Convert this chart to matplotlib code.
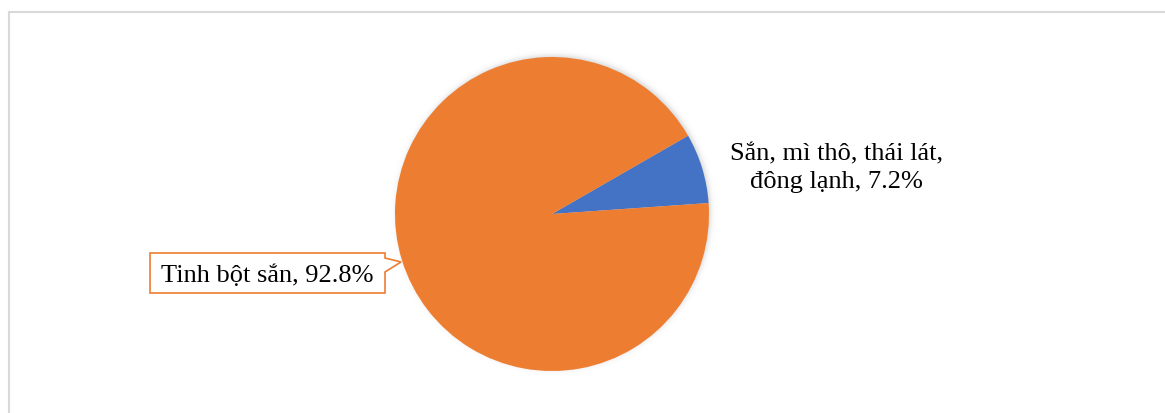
import numpy as np
import matplotlib
matplotlib.use("Agg")
import matplotlib.pyplot as plt
from matplotlib.patches import Polygon
from matplotlib.lines import Line2D

# Export structure of cassava products
categories = ["Sắn, mì thô, thái lát,\nđông lạnh", "Tinh bột sắn"]
shares = [7.2, 92.8]
colors = ["#4472C4", "#ED7D31"]

W, H = 1165, 414
fig = plt.figure(figsize=(W / 100, H / 100), dpi=100)
ax = fig.add_axes([0, 0, 1, 1])
ax.set_xlim(0, W)
ax.set_ylim(0, H)
ax.set_aspect("equal")
ax.axis("off")

def Y(y):
    # convert top-down pixel row into axis coordinate
    return H - y

cx, cy, r = 552, 215, 157

# soft shadow around the pie
xx, yy = np.meshgrid(np.arange(W) + 0.5, np.arange(H) + 0.5)
d = np.hypot(xx - (cx + 1.5), yy - Y(cy - 1.5))
alpha = 0.30 / (1 + np.exp((d - r) / 1.6))
shadow = np.zeros((H, W, 4))
shadow[..., :3] = 0.45
shadow[..., 3] = alpha
ax.imshow(shadow, extent=(0, W, 0, H), origin="lower", zorder=1, interpolation="bilinear")

ax.pie(shares, colors=colors, startangle=4, counterclock=True,
       center=(cx, Y(cy)), radius=r, frame=True,
       wedgeprops=dict(linewidth=0, zorder=2))
ax.set_xlim(0, W)
ax.set_ylim(0, H)
ax.axis("off")

font = dict(family="Liberation Serif", size=19, color="black")

# label for the small slice (two lines, centred)
lines = f"{categories[0]}, {shares[0]:.1f}%".split("\n")
for i, line in enumerate(lines):
    ax.text(836, Y(160.7 + 27.6 * i), line, ha="center", va="baseline", zorder=5, **font)

# callout label for the large slice
bx0, bx1, by0, by1 = 150, 385, 254, 294
callout = [(bx0, by0), (bx1, by0), (bx1, 259), (401, 263), (bx1, 273),
           (bx1, by1), (bx0, by1)]
ax.add_patch(Polygon([(x, Y(y)) for x, y in callout], closed=True,
                     facecolor="white", edgecolor="#ED7D31", linewidth=1.2, zorder=4))
ax.text((bx0 + bx1) / 2, Y(282.3), f"{categories[1]}, {shares[1]:.1f}%",
        ha="center", va="baseline", zorder=5, **font)

# chart area border
border = "#D9D9D9"
ax.add_line(Line2D([8.5, W], [Y(12.5), Y(12.5)], color=border, linewidth=1.5, zorder=6))
ax.add_line(Line2D([8.5, 8.5], [Y(12.5), 0], color=border, linewidth=1.5, zorder=6))

fig.savefig("out.png", dpi=100)
